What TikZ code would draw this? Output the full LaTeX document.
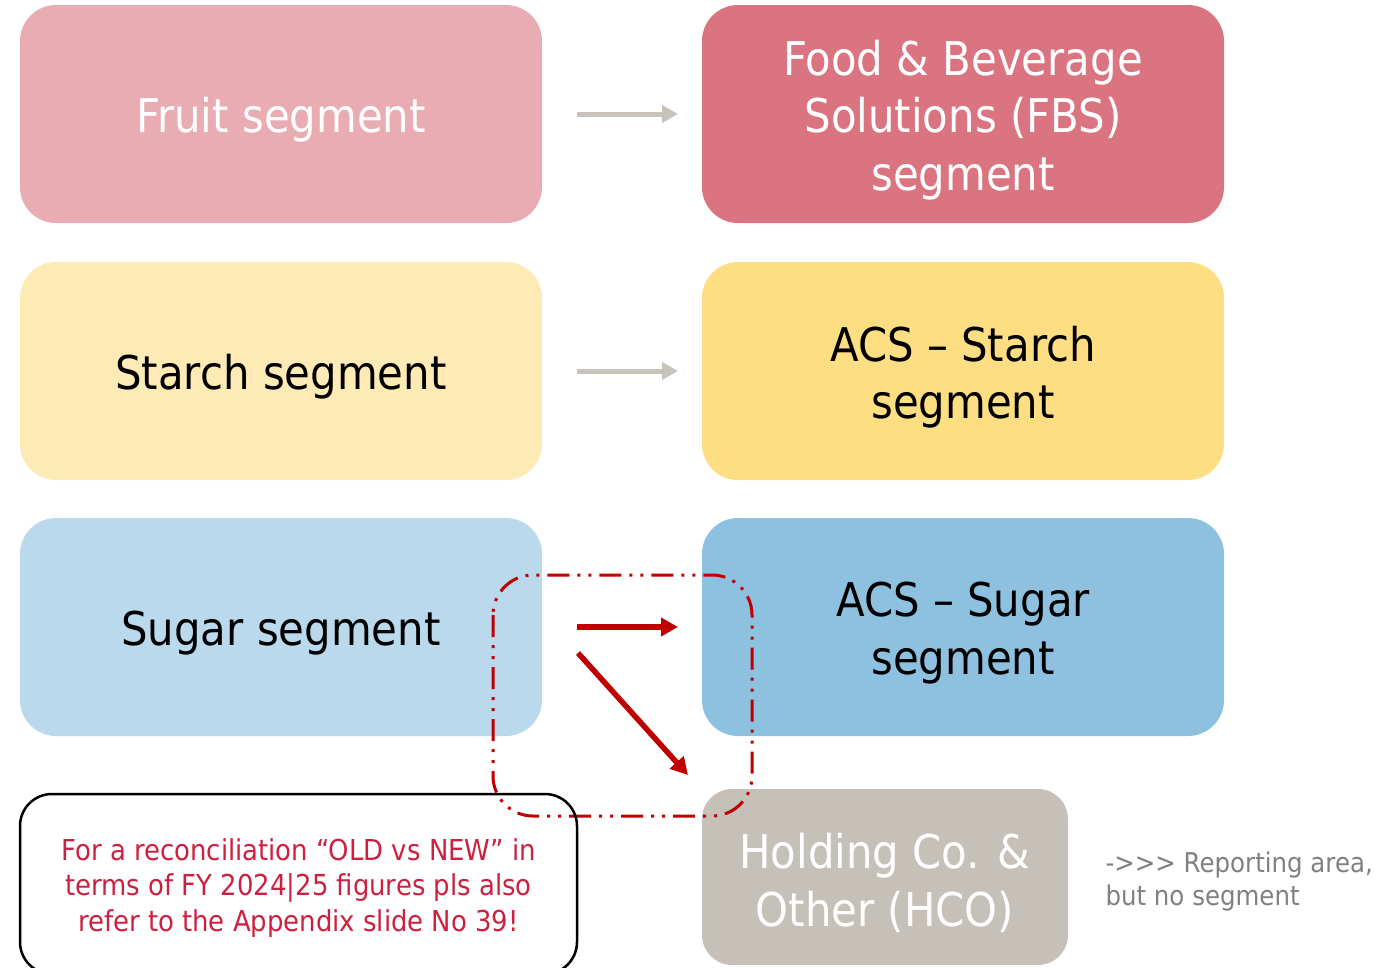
\documentclass[tikz,border=0pt]{standalone}
\usepackage{fontspec}
\setmainfont{DejaVu Sans}[FakeStretch=0.9]
\newfontfamily\sidefont{DejaVu Sans}[FakeStretch=0.9, Ligatures=TeXOff]
\usetikzlibrary{arrows.meta}
\definecolor{cFruit}{RGB}{233,172,178}
\definecolor{cFBS}{RGB}{218,116,128}
\definecolor{cStarch}{RGB}{254,234,180}
\definecolor{cACSStarch}{RGB}{254,222,130}
\definecolor{cSugar}{RGB}{186,217,237}
\definecolor{cACSSugar}{RGB}{142,192,224}
\definecolor{cHCO}{RGB}{197,193,185}
\definecolor{cRed}{RGB}{192,0,0}
\definecolor{cNote}{RGB}{205,32,64}
\definecolor{cGrayArrow}{RGB}{200,195,187}
\definecolor{cGrayText}{RGB}{128,128,128}
\tikzset{
  segbox/.style={draw=none, rounded corners=36pt, minimum width=522pt, minimum height=218pt, inner sep=0pt},
  segtext/.style={align=center, font=\fontsize{46.5}{57.5}\selectfont, inner sep=0pt, yshift=-6pt},
  grayarrow/.style={draw=cGrayArrow, line width=5pt, -{Triangle[length=16pt,width=17pt]}},
  redarrow/.style={draw=cRed, line width=5.5pt, -{Triangle[length=17pt,width=18pt]}},
  regionbox/.style={draw=cRed, line width=3pt, rounded corners=40pt, dash pattern=on 22pt off 8pt on 3pt off 8pt on 3pt off 8pt},
  notebox/.style={draw=black, line width=2.5pt, rounded corners=32pt, minimum width=557pt, minimum height=180pt, inner sep=0pt},
}
\begin{document}
\begin{tikzpicture}[x=1pt,y=-1pt]
\useasboundingbox (0,0) rectangle (1398,967);
% left column
\node[segbox, fill=cFruit] (fruit) at (281,114) {};
\node[segtext, text=white] (fruit-t) at (fruit.center) {Fruit segment};
\node[segbox, fill=cStarch] (starch) at (281,371) {};
\node[segtext, text=black] (starch-t) at (starch.center) {Starch segment};
\node[segbox, fill=cSugar] (sugar) at (281,627) {};
\node[segtext, text=black] (sugar-t) at (sugar.center) {Sugar segment};
% right column
\node[segbox, fill=cFBS] (fbs) at (963,114) {};
\node[segtext, text=white] (fbs-t) at (fbs.center) {Food \& Beverage\\Solutions (FBS)\\segment};
\node[segbox, fill=cACSStarch] (acsstarch) at (963,371) {};
\node[segtext, text=black] (acsstarch-t) at (acsstarch.center) {ACS -- Starch\\segment};
\node[segbox, fill=cACSSugar] (acssugar) at (963,627) {};
\node[segtext, text=black] (acssugar-t) at (acssugar.center) {ACS -- Sugar\\segment};
\node[segbox, fill=cHCO, minimum width=366pt, minimum height=176pt, rounded corners=30pt] (hco) at (885,877) {};
\node[segtext, text=white] (hco-t) at (hco.center) {Holding Co. \&\\Other (HCO)};
% region box
\draw[regionbox] (493,575) rectangle (752,816);
% note box
\node[notebox] (note) at (298.5,884) {};
\node[text=cNote, align=center, font=\fontsize{28.8}{35.5}\selectfont, yshift=-4pt] (notetext) at (note.center) {For a reconciliation \textquotedblleft OLD vs NEW\textquotedblright{} in\\terms of FY 2024|25 figures pls also\\refer to the Appendix slide No 39!};
% side text
\node[text=cGrayText, align=left, anchor=west, font=\sidefont\fontsize{27.2}{33}\selectfont] (side) at (1102,881) {->>> Reporting area,\\but no segment};
% arrow endpoints
\coordinate (a1s) at (577,114);
\coordinate (a1e) at (678,114);
\coordinate (a2s) at (577,371);
\coordinate (a2e) at (678,371);
\coordinate (a3s) at (577,627);
\coordinate (a3e) at (678,627);
\coordinate (a4s) at (578,653);
\coordinate (a4e) at (688,775);
\draw[grayarrow] (a1s) -- (a1e);
\draw[grayarrow] (a2s) -- (a2e);
\draw[redarrow] (a3s) -- (a3e);
\draw[redarrow] (a4s) -- (a4e);
\end{tikzpicture}
\end{document}
